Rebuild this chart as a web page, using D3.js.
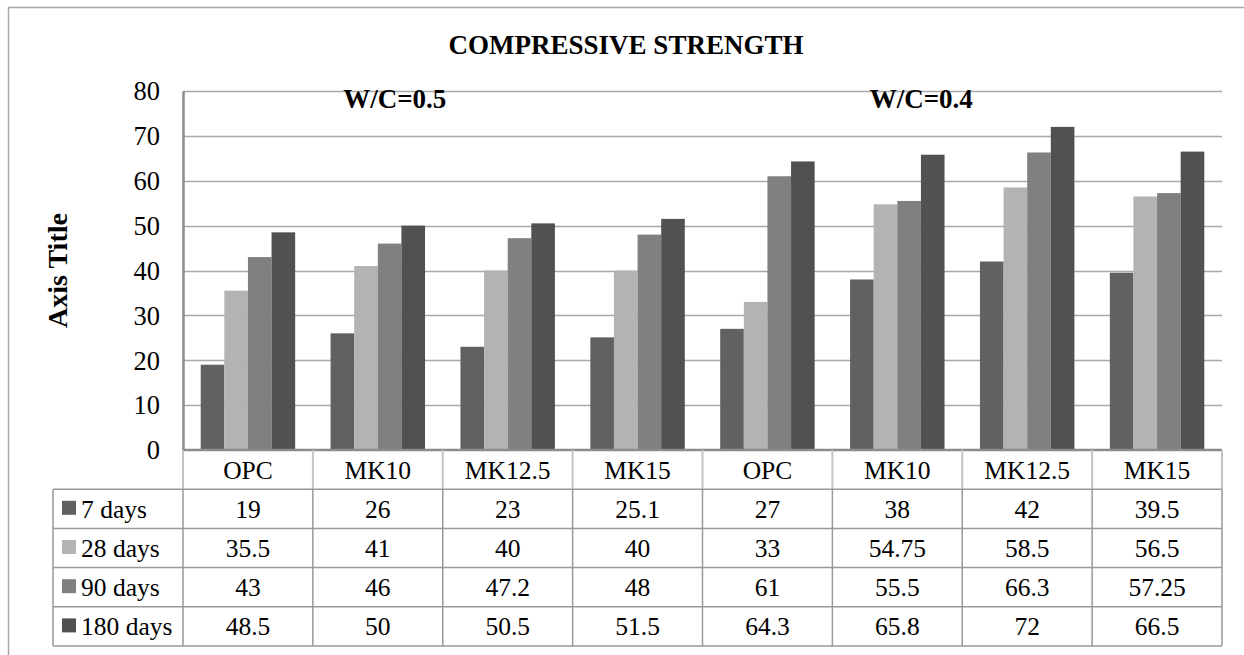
<!DOCTYPE html>
<html><head><meta charset="utf-8">
<script src="https://cdn.jsdelivr.net/npm/d3@7"></script>
<style>
html,body{margin:0;padding:0;background:#fff;}
svg{display:block;font-family:"Liberation Serif","Times New Roman",serif;}
</style></head>
<body><svg id="c" width="1244" height="655"></svg>
<script>
const categories = ["OPC","MK10","MK12.5","MK15","OPC","MK10","MK12.5","MK15"];
const seriesNames = ["7 days","28 days","90 days","180 days"];
const days7   = [19, 26, 23, 25.1, 27, 38, 42, 39.5];
const days28  = [35.5, 41, 40, 40, 33, 54.75, 58.5, 56.5];
const days90  = [43, 46, 47.2, 48, 61, 55.5, 66.3, 57.25];
const days180 = [48.5, 50, 50.5, 51.5, 64.3, 65.8, 72, 66.5];
const yTicks = [0,10,20,30,40,50,60,70,80];
const groupLabels = ["W/C=0.5", "W/C=0.4"];
const groupLabelCats = [1, 5];
const titleText = "COMPRESSIVE STRENGTH";
const yAxisTitle = "Axis Title";

const series = [days7, days28, days90, days180];
const colors = ["#616161","#b3b3b3","#808080","#515151"];
const labelDx = [17, 24];

const svg = d3.select("#c");
const W = 1244, H = 655;
const plot = {l:183, r:1222, t:91, b:450};
const rowH = 39.2;
const tableLeft = 53;
const FONT = "Liberation Serif";

// outer frame
svg.append("path").attr("d", `M8.5,${H} V7.5 H${W}`).attr("fill","none").attr("stroke","#a6a6a6").attr("stroke-width",1.5);

const y = d3.scaleLinear().domain([0,80]).range([plot.b, plot.t]);
const x = d3.scaleBand().domain(d3.range(categories.length)).range([plot.l, plot.r]).padding(0);
const step = x.bandwidth();
const bw = step/5.5;
const xs = d3.scaleBand().domain(d3.range(series.length)).range([0.75*bw, step-0.75*bw]).padding(0);

// gridlines
svg.append("g").selectAll("line").data(yTicks.filter(t=>t>0)).join("line")
  .attr("x1",plot.l).attr("x2",plot.r).attr("y1",d=>Math.round(y(d))+0.5).attr("y2",d=>Math.round(y(d))+0.5)
  .attr("stroke","#a9a9a9").attr("stroke-width",1.5);

// y axis
const yAxis = d3.axisLeft(y).tickValues(yTicks).tickSize(0).tickPadding(23);
const gy = svg.append("g").attr("transform",`translate(${plot.l},0)`).call(yAxis);
gy.attr("font-family",FONT);
gy.select(".domain").attr("stroke","#8c8c8c").attr("stroke-width",2.5);
gy.selectAll("text").attr("font-size","26.5px").attr("fill","#000").attr("dy","0.33em");

// bars
const gBars = svg.append("g");
series.forEach((vals,si)=>{
  gBars.append("g").selectAll("rect").data(vals).join("rect")
    .attr("x",(d,i)=>x(i)+xs(si)).attr("width",xs.bandwidth())
    .attr("y",d=>y(d)).attr("height",d=>y(0)-y(d))
    .attr("fill",colors[si]);
});

// baseline
svg.append("line").attr("x1",plot.l).attr("x2",plot.r).attr("y1",plot.b).attr("y2",plot.b)
  .attr("stroke","#8c8c8c").attr("stroke-width",2.5);

// header row (category labels)
const gh = svg.append("g");
gh.selectAll("line.v").data(d3.range(categories.length+1)).join("line")
  .attr("x1",i=>plot.l + i*step).attr("x2",i=>plot.l + i*step)
  .attr("y1",plot.b).attr("y2",plot.b+rowH)
  .attr("stroke","#c4c4c4").attr("stroke-width",2);
gh.selectAll("text").data(categories).join("text")
  .attr("x",(d,i)=>x(i)+step/2).attr("y",plot.b+rowH/2+9.5)
  .attr("text-anchor","middle").attr("font-size","25.5px").text(d=>d);

// data table
const tTop = plot.b + rowH;
const gt = svg.append("g");
gt.selectAll("line.h").data(d3.range(series.length+1)).join("line")
  .attr("x1",tableLeft).attr("x2",plot.r)
  .attr("y1",i=>tTop+i*rowH).attr("y2",i=>tTop+i*rowH)
  .attr("stroke","#999").attr("stroke-width",1.5);
const vx = [tableLeft].concat(d3.range(categories.length+1).map(i=>plot.l+i*step));
gt.selectAll("line.v").data(vx).join("line")
  .attr("x1",d=>d).attr("x2",d=>d).attr("y1",tTop).attr("y2",tTop+series.length*rowH)
  .attr("stroke","#999").attr("stroke-width",1.5);
series.forEach((vals,si)=>{
  const ry = tTop + si*rowH;
  gt.append("rect").attr("x",tableLeft+9).attr("y",ry+rowH/2-8).attr("width",14).attr("height",14).attr("fill",colors[si]);
  gt.append("text").attr("x",tableLeft+28).attr("y",ry+rowH/2+9).attr("font-size","25.5px").text(seriesNames[si]);
  gt.append("g").selectAll("text").data(vals).join("text")
    .attr("x",(d,i)=>x(i)+step/2).attr("y",ry+rowH/2+9)
    .attr("text-anchor","middle").attr("font-size","25.5px").text(d=>String(d));
});

// title
svg.append("text").attr("x",626).attr("y",54).attr("text-anchor","middle")
  .attr("font-size","27px").attr("font-weight","bold").text(titleText);

// group labels
svg.append("g").selectAll("text").data(groupLabels).join("text")
  .attr("x",(d,i)=>x(groupLabelCats[i])+step/2+labelDx[i]).attr("y",108)
  .attr("text-anchor","middle").attr("font-size","27px").attr("font-weight","bold").text(d=>d);

// axis title
svg.append("text").attr("transform",`translate(67,${(plot.t+plot.b)/2}) rotate(-90)`)
  .attr("text-anchor","middle").attr("font-size","28px").attr("font-weight","bold").text(yAxisTitle);
</script></body></html>
